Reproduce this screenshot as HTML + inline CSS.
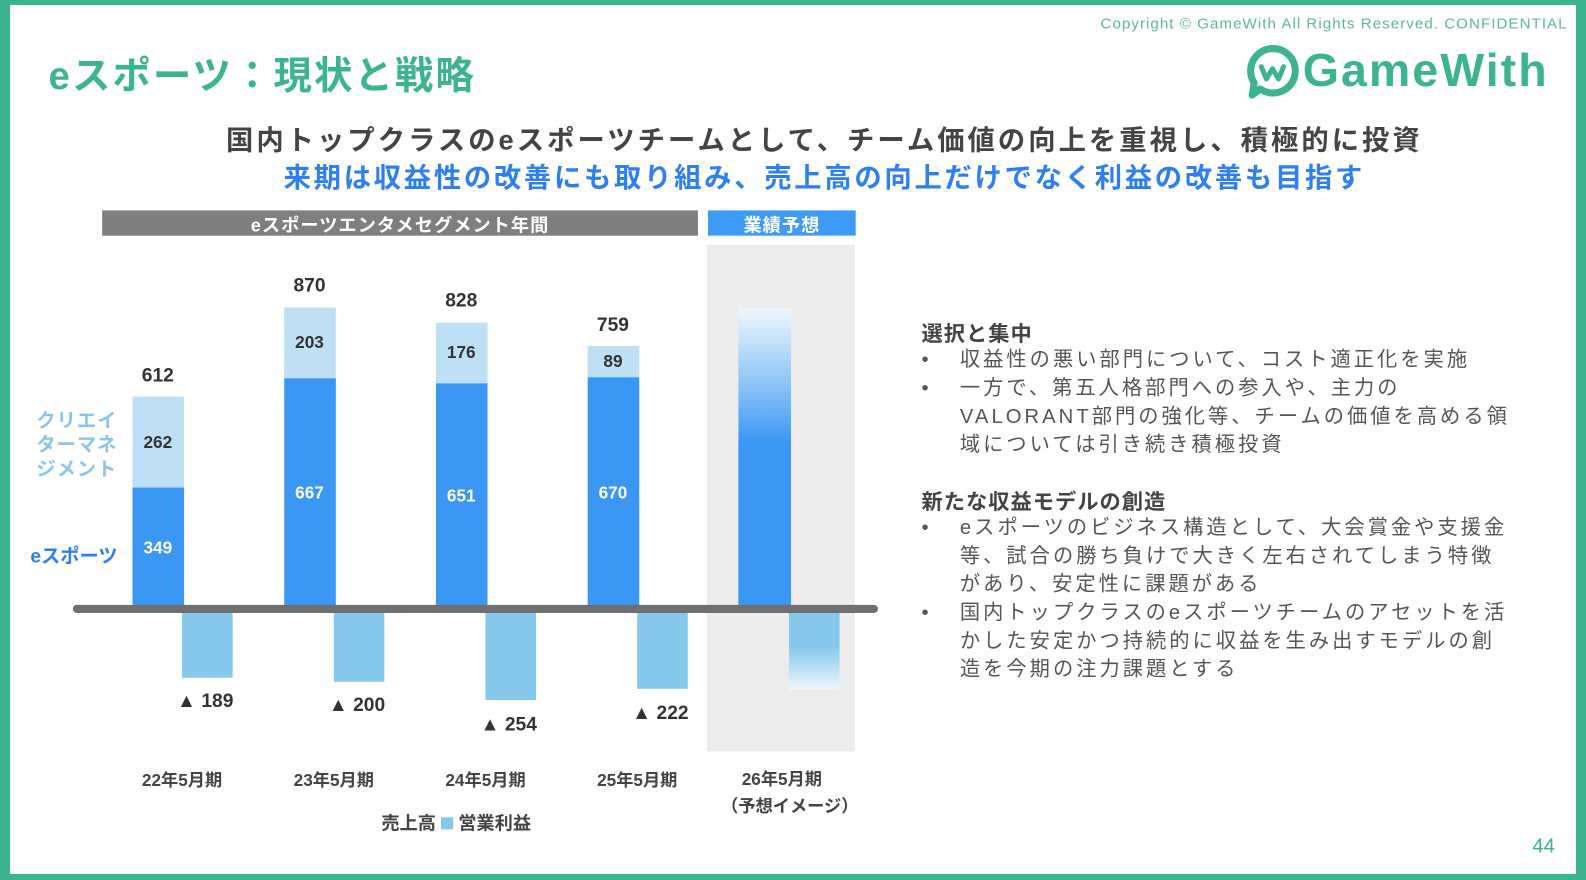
<!DOCTYPE html>
<html><head><meta charset="utf-8"><style>
html,body{margin:0;padding:0;background:#fff;}
body{width:1586px;height:880px;overflow:hidden;position:relative;font-family:"Liberation Sans","Noto Sans CJK JP",sans-serif;}
#s{position:absolute;left:0;top:0;width:1568px;height:870px;transform:scale(1.01148);transform-origin:0 0;}
.a{position:absolute;}
.t{position:absolute;white-space:nowrap;}
.c{text-align:center;}
</style></head><body><div id="s">
<div class="a" style="left:0;top:0;width:1568px;height:870px;box-sizing:border-box;border:solid #3cb48f;border-width:5px 10px 6px 10px;"></div>
<div class="t" style="left:1088px;top:15px;font-size:15px;letter-spacing:1px;color:#5cb89a;">Copyright © GameWith All Rights Reserved. CONFIDENTIAL</div>
<div class="t" style="left:48px;top:44px;font-size:38px;letter-spacing:2px;font-weight:bold;color:#3cb48f;">eスポーツ：現状と戦略</div>
<svg class="a" style="left:1232px;top:44px" width="52" height="54" viewBox="0 0 52 54"><path d="M26 4 A22 22 0 1 1 14 44 L6 50 L8 38 A22 22 0 0 1 26 4Z" fill="none" stroke="#3cb48f" stroke-width="7" stroke-linejoin="round"/><path d="M15 22 L20 34 L26 24 L32 34 L37 22" fill="none" stroke="#3cb48f" stroke-width="5" stroke-linecap="round" stroke-linejoin="round"/></svg>
<div class="t" style="left:1288px;top:42px;font-size:46px;letter-spacing:2px;font-weight:bold;color:#3cb48f;">GameWith</div>
<div class="t c" style="left:0;width:1630px;top:117px;font-size:27px;letter-spacing:3px;font-weight:bold;color:#444;">国内トップクラスのeスポーツチームとして、チーム価値の向上を重視し、積極的に投資</div>
<div class="t c" style="left:0;width:1630px;top:154px;font-size:27px;letter-spacing:2.7px;font-weight:bold;color:#2e7ff0;">来期は収益性の改善にも取り組み、売上高の向上だけでなく利益の改善も目指す</div>
<div class="a" style="left:101px;top:208px;width:589px;height:25px;background:#7f7f7f;"></div>
<div class="t c" style="left:101px;width:589px;top:209px;font-size:18px;letter-spacing:1px;font-weight:bold;color:#fff;">eスポーツエンタメセグメント年間</div>
<div class="a" style="left:700px;top:208px;width:146px;height:25px;background:#3d9bf5;"></div>
<div class="t c" style="left:700px;width:146px;top:209px;font-size:18px;letter-spacing:1px;font-weight:bold;color:#fff;">業績予想</div>
<div class="a" style="left:699px;top:242px;width:146px;height:501px;background:#ececec;"></div>
<div class="a" style="left:131px;top:392px;width:51px;height:90px;background:#bfdff5;"></div>
<div class="a" style="left:131px;top:482px;width:51px;height:118px;background:#3a97f4;"></div>
<div class="a" style="left:281px;top:304px;width:51px;height:70px;background:#bfdff5;"></div>
<div class="a" style="left:281px;top:374px;width:51px;height:226px;background:#3a97f4;"></div>
<div class="a" style="left:431px;top:319px;width:51px;height:60px;background:#bfdff5;"></div>
<div class="a" style="left:431px;top:379px;width:51px;height:221px;background:#3a97f4;"></div>
<div class="a" style="left:581px;top:342px;width:51px;height:31px;background:#bfdff5;"></div>
<div class="a" style="left:581px;top:373px;width:51px;height:227px;background:#3a97f4;"></div>
<div class="a" style="left:730px;top:305px;width:52px;height:295px;background:linear-gradient(#eef6fd,#8ec5f7 25%,#3a97f4 45%,#3a97f4);"></div>
<div class="a" style="left:180px;top:604px;width:50px;height:66px;background:#86c8ec;"></div>
<div class="a" style="left:330px;top:604px;width:50px;height:70px;background:#86c8ec;"></div>
<div class="a" style="left:480px;top:604px;width:50px;height:88px;background:#86c8ec;"></div>
<div class="a" style="left:630px;top:604px;width:50px;height:77px;background:#86c8ec;"></div>
<div class="a" style="left:780px;top:604px;width:50px;height:78px;background:linear-gradient(#86c8ec,#86c8ec 45%,#eef6fb);"></div>
<div class="a" style="left:72px;top:598px;width:796px;height:8px;background:#6f6f6f;border-radius:4px;"></div>
<div style="font-weight:bold;">
<div class="t c" style="left:126px;width:60px;top:361px;font-size:19px;color:#333;">612</div>
<div class="t c" style="left:276px;width:60px;top:272px;font-size:19px;color:#333;">870</div>
<div class="t c" style="left:426px;width:60px;top:287px;font-size:19px;color:#333;">828</div>
<div class="t c" style="left:576px;width:60px;top:311px;font-size:19px;color:#333;">759</div>
<div class="t c" style="left:126px;width:60px;top:428px;font-size:17px;color:#333;">262</div>
<div class="t c" style="left:276px;width:60px;top:329px;font-size:17px;color:#333;">203</div>
<div class="t c" style="left:426px;width:60px;top:339px;font-size:17px;color:#333;">176</div>
<div class="t c" style="left:576px;width:60px;top:348px;font-size:17px;color:#333;">89</div>
<div class="t c" style="left:126px;width:60px;top:532px;font-size:17px;color:#fff;">349</div>
<div class="t c" style="left:276px;width:60px;top:478px;font-size:17px;color:#fff;">667</div>
<div class="t c" style="left:426px;width:60px;top:481px;font-size:17px;color:#fff;">651</div>
<div class="t c" style="left:576px;width:60px;top:478px;font-size:17px;color:#fff;">670</div>
<div class="t" style="left:175px;top:683px;font-size:19px;color:#333;">▲ 189</div>
<div class="t" style="left:325px;top:687px;font-size:19px;color:#333;">▲ 200</div>
<div class="t" style="left:475px;top:706px;font-size:19px;color:#333;">▲ 254</div>
<div class="t" style="left:625px;top:695px;font-size:19px;color:#333;">▲ 222</div>
<div class="t" style="left:36px;top:405px;font-size:19px;line-height:24px;letter-spacing:1px;color:#8cc5ec;">クリエイ<br>ターマネ<br>ジメント</div>
<div class="t" style="left:30px;top:535px;font-size:19px;color:#2e7ff0;">eスポーツ</div>
<div class="t c" style="left:130px;width:100px;top:757px;font-size:17px;color:#444;">22年5月期</div>
<div class="t c" style="left:280px;width:100px;top:757px;font-size:17px;color:#444;">23年5月期</div>
<div class="t c" style="left:430px;width:100px;top:757px;font-size:17px;color:#444;">24年5月期</div>
<div class="t c" style="left:580px;width:100px;top:757px;font-size:17px;color:#444;">25年5月期</div>
<div class="t c" style="left:713px;width:120px;top:757px;font-size:17px;line-height:27px;color:#444;">26年5月期<br>（予想イメージ）</div>
<div class="t" style="left:377px;top:800px;font-size:18px;color:#444;">売上高 <span style="display:inline-block;width:12px;height:12px;background:#86c8ec;"></span> 営業利益</div>
<div class="t" style="left:911px;top:314px;font-size:21px;letter-spacing:1px;color:#444;">選択と集中</div>
<div class="t" style="left:911px;top:480px;font-size:21px;letter-spacing:1px;color:#444;">新たな収益モデルの創造</div>
</div>
<div class="t" style="left:911px;top:342px;font-size:20px;line-height:28px;color:#555;">•<br>•</div>
<div class="t" style="left:949px;top:342px;font-size:20px;line-height:28px;letter-spacing:3px;color:#555;">収益性の悪い部門について、コスト適正化を実施<br>一方で、第五人格部門への参入や、主力の<br>VALORANT部門の強化等、チームの価値を高める領<br>域については引き続き積極投資</div>
<div class="t" style="left:911px;top:508px;font-size:20px;line-height:28px;color:#555;">•<br><br><br>•</div>
<div class="t" style="left:949px;top:508px;font-size:20px;line-height:28px;letter-spacing:3px;color:#555;">eスポーツのビジネス構造として、大会賞金や支援金<br>等、試合の勝ち負けで大きく左右されてしまう特徴<br>があり、安定性に課題がある<br>国内トップクラスのeスポーツチームのアセットを活<br>かした安定かつ持続的に収益を生み出すモデルの創<br>造を今期の注力課題とする</div>
<div class="t" style="left:1515px;top:826px;font-size:20px;color:#3cb48f;">44</div>
</div></body></html>
